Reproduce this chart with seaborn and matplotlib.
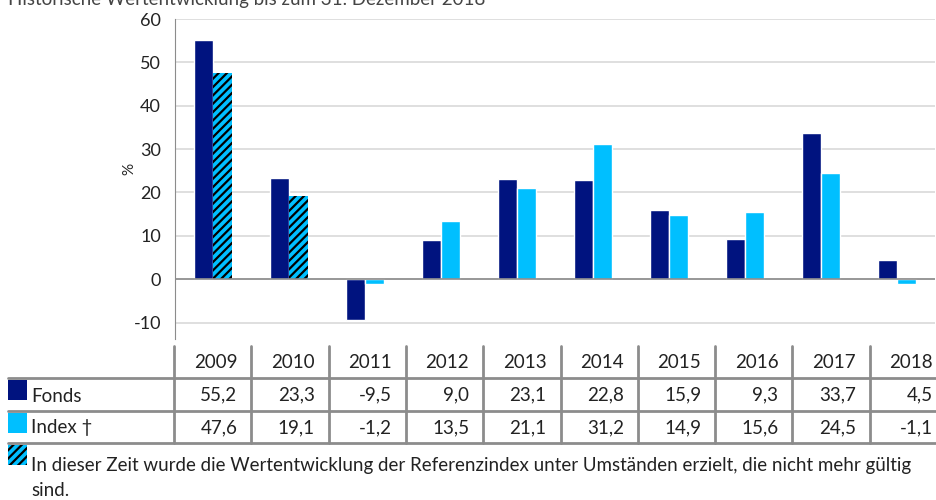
import matplotlib
matplotlib.use("Agg")
import matplotlib.pyplot as plt
from matplotlib.lines import Line2D
from matplotlib.patches import Rectangle
import pandas as pd
import seaborn as sns

# Daten
jahre = ["2009", "2010", "2011", "2012", "2013", "2014", "2015", "2016", "2017", "2018"]
fonds = [55.2, 23.3, -9.5, 9.0, 23.1, 22.8, 15.9, 9.3, 33.7, 4.5]
index_werte = [47.6, 19.1, -1.2, 13.5, 21.1, 31.2, 14.9, 15.6, 24.5, -1.1]
serien = ["Fonds", "Index \u2020"]
schraffiert = ["2009", "2010"]  # Index-Werte unter alten Umständen
titel = "Historische Wertentwicklung bis zum 31. Dezember 2018"
fussnote = ("In dieser Zeit wurde die Wertentwicklung der Referenzindex unter Umständen erzielt, "
            "die nicht mehr gültig")
fussnote2 = "sind."

navy = "#00137F"
cyan = "#00BFFF"
grau = "#8C8C8C"
textfarbe = "#222222"

df = pd.DataFrame({
    "Jahr": jahre * 2,
    "Wert": fonds + index_werte,
    "Serie": [serien[0]] * len(jahre) + [serien[1]] * len(jahre),
})

sns.set_style("white")
plt.rcParams["font.family"] = ["Lato", "DejaVu Sans"]
plt.rcParams["hatch.linewidth"] = 1.6
plt.rcParams["axes.unicode_minus"] = False

W, H = 936, 500
fig = plt.figure(figsize=(W / 100, H / 100), dpi=100)


def fx(x):
    return x / W


def fy(y):
    return 1 - y / H


ax = fig.add_axes([fx(175), fy(339), fx(935) - fx(175), fy(19) - fy(339)])
sns.barplot(data=df, x="Jahr", y="Wert", hue="Serie", order=jahre, hue_order=serien,
            palette=[navy, cyan], width=0.5, saturation=1, legend=False, ax=ax)

# Schraffur auf den alten Indexwerten
for i, j in enumerate(jahre):
    if j in schraffiert:
        p = ax.containers[1].patches[i]
        p.set_hatch("////")
        p.set_edgecolor("black")
        p.set_linewidth(0)

ax.set_xlim(-0.5, len(jahre) - 0.5)
ax.set_ylim(-13.8, 60)
ax.set_yticks(range(-10, 61, 10))
ax.set_xticks([])
ax.set_xlabel("")
ax.set_ylabel("%", fontsize=11, color=textfarbe)
ax.yaxis.set_label_coords(fx(127) - fx(175), 0.53)
ax.grid(axis="y", color="#D9D9D9", linewidth=1.2)
ax.set_axisbelow(True)
ax.axhline(0, color=grau, linewidth=1.2)
for s in ["top", "right", "bottom"]:
    ax.spines[s].set_visible(False)
ax.spines["left"].set_color(grau)
ax.tick_params(axis="y", length=4, color="#D9D9D9", labelsize=13, labelcolor=textfarbe, pad=6)

# Titel (oben abgeschnitten wie im Original)
fig.text(fx(8), fy(-1), titel, fontsize=13.5, color="#444444", va="center", ha="left")

# Tabelle unter dem Diagramm
col_start, col_w = 174, 77.3
y_top, y_h1, y_h2, y_h3 = 346, 378, 411, 443
for y in [y_h1, y_h2, y_h3]:
    fig.add_artist(Line2D([fx(8), 1], [fy(y), fy(y)], color=grau, linewidth=2,
                          transform=fig.transFigure))
for k in range(len(jahre) + 1):
    x = col_start + k * col_w
    fig.add_artist(Line2D([fx(x), fx(x)], [fy(y_top), fy(y_h3)], color=grau, linewidth=2,
                          transform=fig.transFigure))


def fmt(v):
    return f"{v:.1f}".replace(".", ",")


for k, j in enumerate(jahre):
    xr = col_start + (k + 1) * col_w - 14
    fig.text(fx(xr), fy(362), j, ha="right", va="center", fontsize=13.5, color=textfarbe)
    fig.text(fx(xr), fy(395), fmt(fonds[k]), ha="right", va="center", fontsize=13.5, color=textfarbe)
    fig.text(fx(xr), fy(428), fmt(index_werte[k]), ha="right", va="center", fontsize=13.5, color=textfarbe)

# Legende in der Tabelle
fig.add_artist(Rectangle((fx(8), fy(400)), fx(19), 20 / H, facecolor=navy, linewidth=0,
                         transform=fig.transFigure))
fig.add_artist(Rectangle((fx(8), fy(433)), fx(19), 20 / H, facecolor=cyan, linewidth=0,
                         transform=fig.transFigure))
fig.add_artist(Rectangle((fx(8), fy(465)), fx(19), 20 / H, facecolor=cyan, edgecolor="black",
                         hatch="////", linewidth=0, transform=fig.transFigure))
fig.text(fx(31), fy(396), serien[0], ha="left", va="center", fontsize=13.5, color=textfarbe)
fig.text(fx(31), fy(428), serien[1], ha="left", va="center", fontsize=13.5, color=textfarbe)
fig.text(fx(31), fy(465), fussnote, ha="left", va="center", fontsize=13.5, color=textfarbe)
fig.text(fx(31), fy(490), fussnote2, ha="left", va="center", fontsize=13.5, color=textfarbe)

fig.savefig("out.png", dpi=100)
